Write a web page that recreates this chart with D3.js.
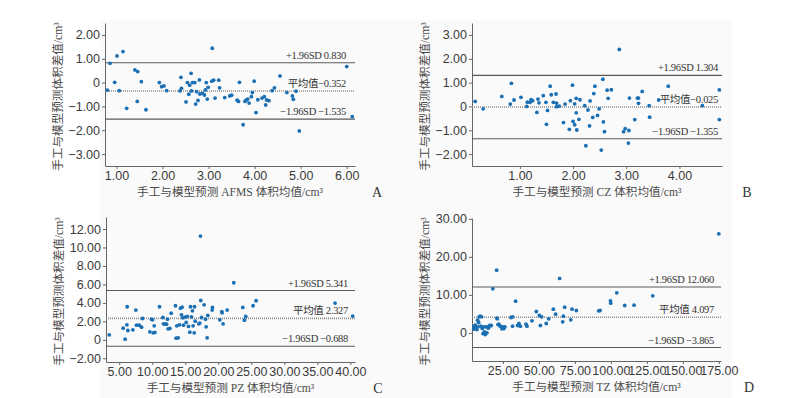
<!DOCTYPE html>
<meta charset="utf-8">
<style>
body{margin:0;background:#fff;}
svg{display:block;font-family:"Liberation Serif","Noto Sans CJK SC",serif;}
.tick text{fill:#3a3a3a;font-size:12.5px;}
.tick line,.domain{stroke:#666;}
.ttl{fill:#4a4a4a;font-size:11.6px;}
.lim{fill:#333;font-size:10.5px;letter-spacing:-0.3px;}
.tag{fill:#333;font-size:14px;}
</style>
<body>
<script src="https://cdn.jsdelivr.net/npm/d3@7"></script>
<script>
// A - AFMS
var afmsMean = [0.80,0.86,0.96,1.01,1.06,1.14,1.22,1.40,1.46,1.45,1.54,1.64,1.93,1.98,2.03,2.09,2.40,2.41,2.38,2.51,2.54,2.57,2.59,2.62,2.63,2.65,2.70,2.72,2.74,2.77,2.80,2.81,2.87,2.91,2.93,2.95,2.99,2.97,3.07,3.08,3.11,3.14,3.22,3.24,3.35,3.46,3.50,3.62,3.65,3.67,3.75,3.79,3.82,3.85,3.88,3.93,3.95,3.99,4.03,4.07,4.16,4.21,4.24,4.26,4.31,4.38,4.43,4.55,4.70,4.82,4.84,4.90,4.97,6.00,6.12];
var afmsDiff = [-0.32,0.81,0.01,1.12,-0.34,1.30,-1.08,0.53,0.46,-0.79,0.04,-1.14,0.00,-0.17,-0.14,-0.34,0.22,-0.24,-0.35,-0.81,0.00,-0.49,-0.11,0.39,-0.35,0.00,0.00,-0.90,-0.38,-0.75,0.11,-0.48,-0.45,-0.52,-0.31,0.00,-0.20,-0.69,0.06,1.44,0.10,-0.65,0.10,-0.22,-0.63,-0.56,-0.53,-0.74,-0.79,0.01,-1.77,-0.79,-0.73,-0.69,-0.86,-0.59,-0.42,0.06,-1.26,-0.72,-0.65,-0.59,-0.94,-0.73,-0.76,-0.34,-0.22,0.28,-0.42,-0.56,-0.70,-0.36,-2.03,0.67,-1.43];
// B - CZ
var czMean = [0.16,0.31,0.66,0.82,0.84,0.89,1.02,1.13,1.14,1.19,1.21,1.24,1.32,1.34,1.36,1.44,1.49,1.50,1.52,1.57,1.59,1.63,1.68,1.69,1.69,1.74,1.82,1.85,1.93,1.95,1.99,2.00,2.03,2.03,2.06,2.06,2.07,2.11,2.13,2.22,2.24,2.28,2.31,2.32,2.37,2.39,2.41,2.46,2.49,2.53,2.56,2.57,2.59,2.64,2.66,2.72,2.87,2.95,2.98,3.05,3.04,3.06,3.16,3.21,3.23,3.23,3.30,3.43,3.44,3.61,3.79,4.43,4.75,4.75];
var czDiff = [0.21,-0.10,0.42,0.10,0.97,0.27,0.38,0.00,0.18,0.17,0.28,0.24,-0.25,0.31,0.15,0.45,0.17,-0.75,-0.17,0.85,0.49,0.17,0.52,0.14,-0.01,0.01,-0.68,0.10,-0.96,0.24,0.89,-0.63,-0.77,0.11,0.34,-0.27,-0.99,-0.54,0.28,0.03,-1.65,-0.15,-0.82,0.23,-0.46,0.54,0.85,-0.38,-0.10,-1.83,1.14,-0.65,-1.06,0.68,0.34,0.70,2.39,-1.06,-0.93,-1.01,-1.54,0.35,-0.55,0.35,0.35,0.13,0.63,0.03,-0.45,0.27,0.85,0.03,0.69,-0.55];
// C - PZ
var pzMean = [3.49,5.6,5.9,6.16,6.21,6.31,7.07,7.52,7.62,8.03,8.38,8.53,9.64,9.89,10.04,10.14,10.30,10.40,11.10,11.61,11.71,11.96,12.16,12.31,12.41,12.67,12.87,13.52,13.62,13.72,13.93,14.13,14.28,14.43,14.53,14.63,14.73,14.98,15.14,15.29,15.49,15.69,15.79,15.94,16.09,16.19,16.35,16.40,16.50,17.05,17.20,17.30,17.35,17.46,17.86,18.06,18.16,18.31,18.41,19.07,19.12,20.23,20.53,20.58,20.73,21.34,22.35,23.71,23.96,24.16,25.27,25.73,37.68,40.35];
var pzDiff = [0.54,1.26,0.07,1.63,3.58,1.01,1.08,3.22,1.59,1.59,1.37,2.31,0.87,2.24,2.17,0.76,1.52,0.80,3.58,2.42,1.73,1.70,1.70,2.24,1.19,1.23,2.89,3.69,0.18,1.52,0.22,1.63,3.43,2.71,3.54,2.38,1.59,2.46,1.88,2.53,1.45,0.83,3.58,2.49,3.14,1.52,0.76,3.58,2.02,1.73,1.81,11.24,4.26,2.42,3.79,2.24,1.41,0.22,2.64,3.22,3.51,2.17,3.04,2.93,1.73,3.22,6.18,3.51,2.13,2.53,3.69,4.23,3.98,2.57];
// D - TZ
var tzMean = [4.8,4.8,5.5,5.8,6.9,7.4,7.6,8.1,8.5,9.2,9.7,10.2,10.6,11.1,11.8,12.2,12.7,13.4,13.9,14.8,15.3,16.0,16.9,18.0,20.6,20.8,21.1,21.5,22.2,23.1,23.8,24.3,25.0,25.7,26.4,30.6,31.7,31.7,33.8,35.2,36.1,37.1,41.0,41.7,45.2,48.2,50.3,51.0,51.9,55.1,56.8,60.0,61.6,64.4,66.5,67.0,67.9,72.1,73.0,76.0,91.5,92.5,99.7,99.9,104.1,109.6,116.1,129.1,175.0];
var tzDiff = [1.75,0.96,1.23,2.02,0.88,3.33,1.58,2.72,4.21,4.39,1.75,4.21,1.14,-0.18,1.58,0.26,-0.44,1.58,0.00,1.23,1.75,1.93,1.93,11.58,16.49,3.86,3.68,2.19,2.28,1.75,1.58,1.05,1.58,1.14,1.58,4.04,4.21,1.75,8.33,1.93,2.46,1.75,2.28,1.75,3.16,5.61,4.56,1.93,4.21,2.46,3.68,6.23,4.91,14.30,2.89,4.39,6.75,3.42,6.23,5.88,5.79,5.88,8.42,7.81,10.53,7.19,7.28,9.74,26.05];

// limits: upper, mean, lower
var limitsA = [0.830, -0.352, -1.535];
var limitsB = [1.304, -0.025, -1.355];
var limitsC = [5.341, 2.327, -0.688];
var limitsD = [12.060, 4.097, -3.865];
var labelsA = ["+1.96SD 0.830", "平均值−0.352", "−1.96SD −1.535"];
var labelsB = ["+1.96SD 1.304", "平均值−0.025", "−1.96SD −1.355"];
var labelsC = ["+1.96SD 5.341", "平均值 2.327", "−1.96SD −0.688"];
var labelsD = ["+1.96SD 12.060", "平均值 4.097", "−1.96SD −3.865"];

var xTicksA = [1,2,3,4,5,6], yTicksA = [2,1,0,-1,-2,-3];
var xTicksB = [1,2,3,4], yTicksB = [3,2,1,0,-1,-2];
var xTicksC = [5,10,15,20,25,30,35,40], yTicksC = [12,10,8,6,4,2,0,-2];
var xTicksD = [25,50,75,100,125,150,175], yTicksD = [30,20,10,0];

var yTitle = "手工与模型预测体积差值/cm³";

var panels = [
  {mean: afmsMean, diff: afmsDiff, lim: limitsA, lab: labelsA, xt: xTicksA, yt: yTicksA,
   xd: [0.75, 6.18], yd: [-3.5, 2.5], l: 105, r: 355, t: 23, b: 166, lr: 346,
   title: "手工与模型预测 AFMS 体积均值/cm³", tag: "A", tagX: 377},
  {mean: czMean, diff: czDiff, lim: limitsB, lab: labelsB, xt: xTicksB, yt: yTicksB,
   xd: [0.1, 4.8], yd: [-2.5, 3.5], l: 472, r: 722, t: 23, b: 166, lr: 718,
   title: "手工与模型预测 CZ 体积均值/cm³", tag: "B", tagX: 747},
  {mean: pzMean, diff: pzDiff, lim: limitsC, lab: labelsC, xt: xTicksC, yt: yTicksC,
   xd: [3, 40.7], yd: [-2.4, 13.3], l: 106, r: 355, t: 217, b: 362, lr: 348,
   title: "手工与模型预测 PZ 体积均值/cm³", tag: "C", tagX: 378},
  {mean: tzMean, diff: tzDiff, lim: limitsD, lab: labelsD, xt: xTicksD, yt: yTicksD,
   xd: [3.5, 176.5], yd: [-7.4, 30.2], l: 472, r: 721, t: 218, b: 361, lr: 714,
   title: "手工与模型预测 TZ 体积均值/cm³", tag: "D", tagX: 749}
];

var fmt = function(d){ return d === 0 ? "0" : d3.format(".2f")(d).replace("-", "−"); };

var svg = d3.select("body").append("svg").attr("width", 809).attr("height", 398);
svg.append("rect").attr("x", 100).attr("y", 20).attr("width", 632).attr("height", 378).attr("fill", "#fafafa");

panels.forEach(function(p){
  var x = d3.scaleLinear().domain(p.xd).range([p.l, p.r]);
  var y = d3.scaleLinear().domain(p.yd).range([p.b, p.t]);
  var g = svg.append("g");

  g.append("g").attr("transform", "translate(0," + p.b + ")")
    .call(d3.axisBottom(x).tickValues(p.xt).tickFormat(fmt).tickSize(3).tickSizeOuter(0).tickPadding(2));
  g.append("g").attr("transform", "translate(" + p.l + ",0)")
    .call(d3.axisLeft(y).tickValues(p.yt).tickFormat(fmt).tickSize(3).tickSizeOuter(0).tickPadding(2));

  g.selectAll(".ref").data(p.lim).enter().append("line")
    .attr("x1", p.l).attr("x2", p.r)
    .attr("y1", function(d){ return y(d); }).attr("y2", function(d){ return y(d); })
    .attr("stroke", function(d, i){ return i == 1 ? "#8c8c8c" : "#5a5a5a"; })
    .attr("stroke-width", function(d, i){ return i == 1 ? 1.6 : 1.1; })
    .attr("stroke-dasharray", function(d, i){ return i == 1 ? "1,1" : null; });

  g.selectAll(".lim").data(p.lim).enter().append("text")
    .attr("class", "lim")
    .attr("x", p.lr).attr("y", function(d){ return y(d) - 4; })
    .attr("text-anchor", "end")
    .text(function(d, i){ return p.lab[i]; });

  g.selectAll("circle").data(p.mean).enter().append("circle")
    .attr("cx", function(d){ return x(d); })
    .attr("cy", function(d, i){ return y(p.diff[i]); })
    .attr("r", 1.9).attr("fill", "#1b6fb3");

  g.append("text").attr("class", "ttl")
    .attr("x", (p.l + p.r) / 2).attr("y", p.b + 30)
    .attr("text-anchor", "middle").text(p.title);
  g.append("text").attr("class", "ttl")
    .attr("transform", "translate(" + (p.l - 43) + "," + ((p.t + p.b) / 2 + 2) + ") rotate(-90)")
    .attr("text-anchor", "middle").text(yTitle);
  g.append("text").attr("class", "tag")
    .attr("x", p.tagX).attr("y", p.b + 31)
    .attr("text-anchor", "middle").text(p.tag);
});
</script>
